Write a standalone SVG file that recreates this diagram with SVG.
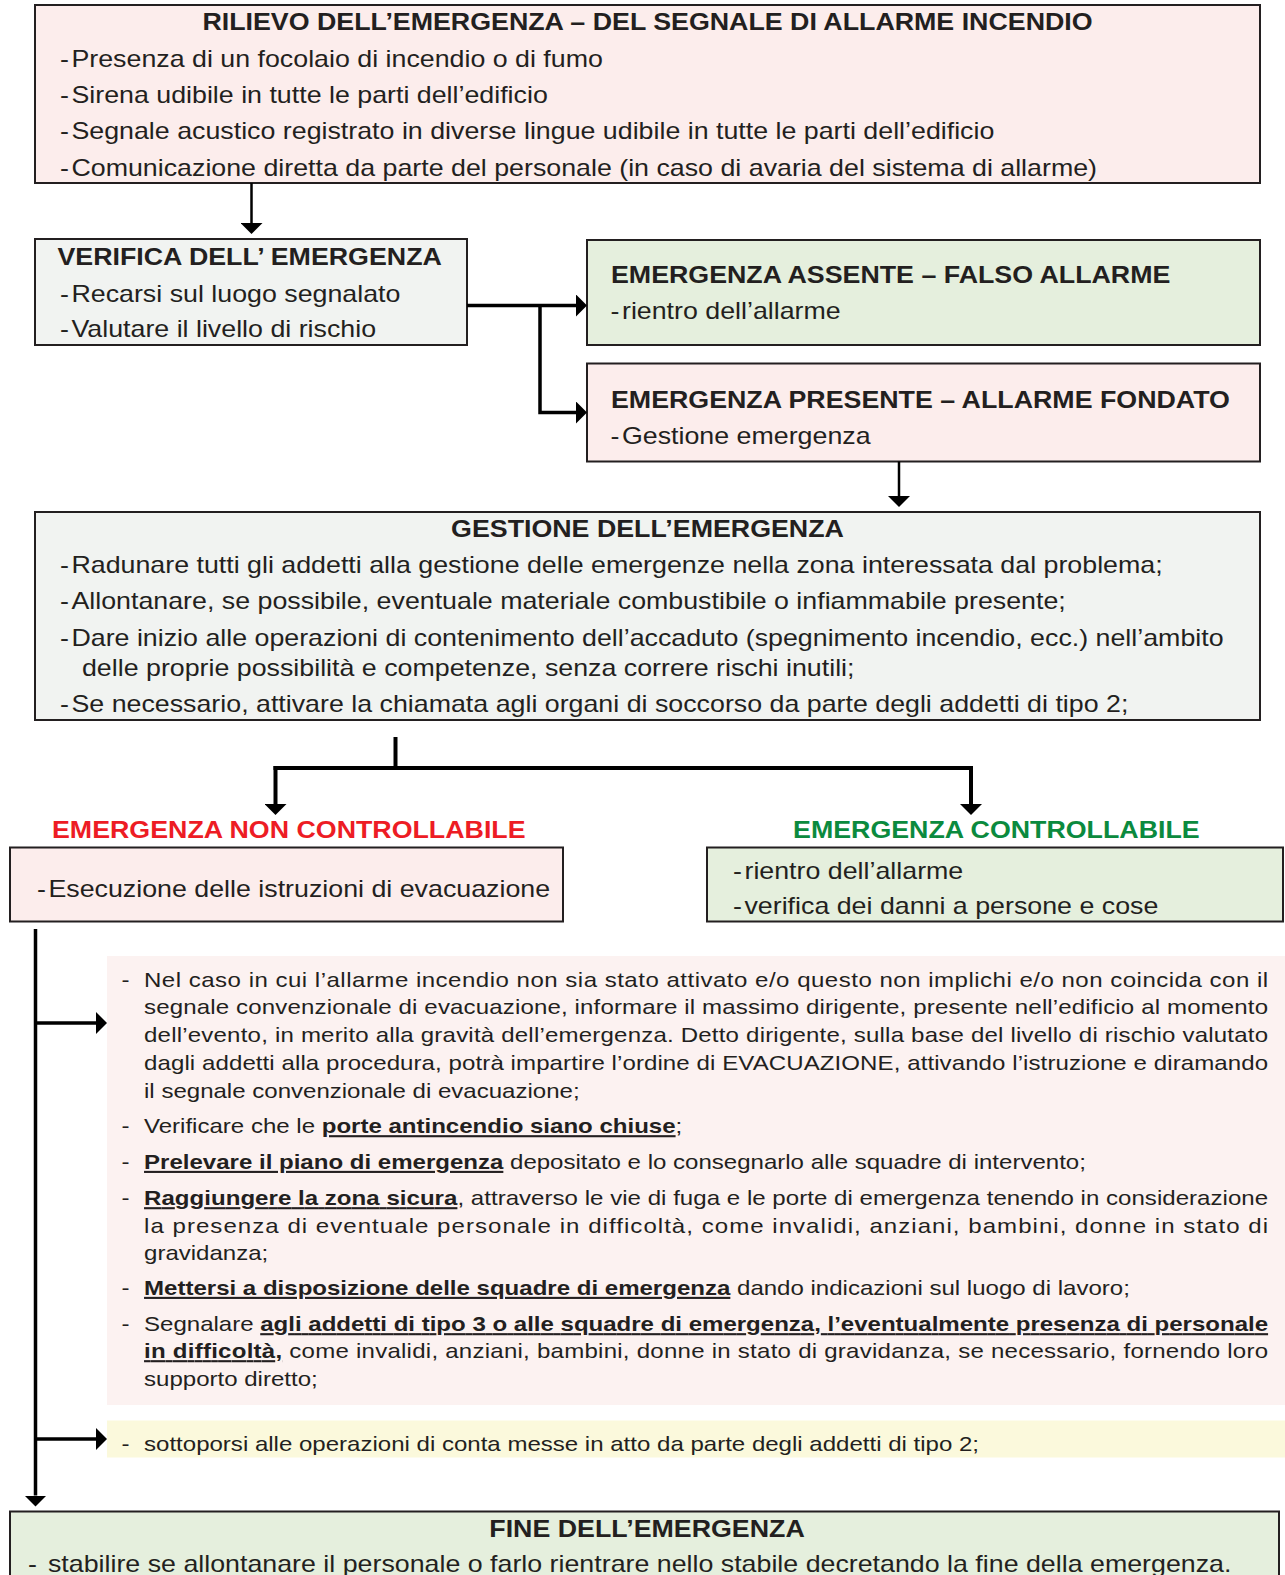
<svg xmlns="http://www.w3.org/2000/svg" width="1285" height="1575" viewBox="0 0 1285 1575">
<style>
.bx{stroke:#231f20;stroke-width:2}
.pk{fill:#fcedec}
.gr{fill:#e5efdd}
.gy{fill:#f1f3f1}
.t{font-family:"Liberation Sans",Arial,sans-serif;font-size:23.4px;fill:#231f20}
.b{font-weight:bold}
.l{font-family:"Liberation Sans",Arial,sans-serif;font-size:21px;fill:#231f20}
.u{font-weight:bold;text-decoration:underline}
.c{stroke:#000;fill:none}
</style>
<defs>
<marker id="ah" markerUnits="userSpaceOnUse" markerWidth="11" markerHeight="22" refX="0" refY="11" orient="auto" viewBox="0 0 11 22"><path d="M0,0 L11,11 L0,22 Z" fill="#000"/></marker>
</defs>
<rect width="1285" height="1575" fill="#fff"/>

<g id="rilievo">
<rect class="bx pk" x="35" y="5" width="1225" height="178"/>
<g transform="scale(1.145 1)">
<text class="t b" x="565.5" y="30" text-anchor="middle">RILIEVO DELL’EMERGENZA – DEL SEGNALE DI ALLARME INCENDIO</text>
<text class="t" x="52.4" y="66.7">-</text><text class="t" x="62.4" y="66.7">Presenza di un focolaio di incendio o di fumo</text>
<text class="t" x="52.4" y="102.7">-</text><text class="t" x="62.4" y="102.7">Sirena udibile in tutte le parti dell’edificio</text>
<text class="t" x="52.4" y="139">-</text><text class="t" x="62.4" y="139">Segnale acustico registrato in diverse lingue udibile in tutte le parti dell’edificio</text>
<text class="t" x="52.4" y="175.7">-</text><text class="t" x="62.4" y="175.7">Comunicazione diretta da parte del personale (in caso di avaria del sistema di allarme)</text>
</g>
</g>

<g id="verifica">
<rect class="bx gy" x="35" y="239" width="432" height="106"/>
<g transform="scale(1.145 1)">
<text class="t b" x="50.2" y="265">VERIFICA DELL’ EMERGENZA</text>
<text class="t" x="52.4" y="301.7">-</text><text class="t" x="62.4" y="301.7">Recarsi sul luogo segnalato</text>
<text class="t" x="52.4" y="337.5">-</text><text class="t" x="62.4" y="337.5">Valutare il livello di rischio</text>
</g>
</g>

<g id="assente">
<rect class="bx gr" x="587" y="240" width="673" height="105"/>
<g transform="scale(1.145 1)">
<text class="t b" x="533.6" y="282.7">EMERGENZA ASSENTE – FALSO ALLARME</text>
<text class="t" x="533.2" y="319.5">-</text><text class="t" x="543.2" y="319.5">rientro dell’allarme</text>
</g>
</g>

<g id="presente">
<rect class="bx pk" x="587" y="363.5" width="673" height="98"/>
<g transform="scale(1.145 1)">
<text class="t b" x="533.6" y="408">EMERGENZA PRESENTE – ALLARME FONDATO</text>
<text class="t" x="533.2" y="444.5">-</text><text class="t" x="543.2" y="444.5">Gestione emergenza</text>
</g>
</g>

<g id="gestione">
<rect class="bx gy" x="35" y="512" width="1225" height="208"/>
<g transform="scale(1.145 1)">
<text class="t b" x="565.5" y="537.3" text-anchor="middle">GESTIONE DELL’EMERGENZA</text>
<text class="t" x="52.4" y="573.3">-</text><text class="t" x="62.4" y="573.3">Radunare tutti gli addetti alla gestione delle emergenze nella zona interessata dal problema;</text>
<text class="t" x="52.4" y="609.3">-</text><text class="t" x="62.4" y="609.3">Allontanare, se possibile, eventuale materiale combustibile o infiammabile presente;</text>
<text class="t" x="52.4" y="646">-</text><text class="t" x="62.4" y="646">Dare inizio alle operazioni di contenimento dell’accaduto (spegnimento incendio, ecc.) nell’ambito</text>
<text class="t" x="71.6" y="676">delle proprie possibilità e competenze, senza correre rischi inutili;</text>
<text class="t" x="52.4" y="712.5">-</text><text class="t" x="62.4" y="712.5">Se necessario, attivare la chiamata agli organi di soccorso da parte degli addetti di tipo 2;</text>
</g>
</g>

<g id="non-controllabile">
<g transform="scale(1.145 1)">
<text class="t b" x="45.4" y="838.3" style="fill:#ed1c24">EMERGENZA NON CONTROLLABILE</text>
</g>
<rect class="bx pk" x="10" y="847.5" width="553" height="74"/>
<g transform="scale(1.145 1)">
<text class="t" x="32.3" y="896.7">-</text><text class="t" x="42.3" y="896.7">Esecuzione delle istruzioni di evacuazione</text>
</g>
</g>

<g id="controllabile">
<g transform="scale(1.145 1)">
<text class="t b" x="692.6" y="838.3" style="fill:#0b8a3e">EMERGENZA CONTROLLABILE</text>
</g>
<rect class="bx gr" x="707" y="847.5" width="576" height="74"/>
<g transform="scale(1.145 1)">
<text class="t" x="640.2" y="879.3">-</text><text class="t" x="650.2" y="879.3">rientro dell’allarme</text>
<text class="t" x="640.2" y="914">-</text><text class="t" x="650.2" y="914">verifica dei danni a persone e cose</text>
</g>
</g>

<g id="istruzioni">
<rect x="107" y="956" width="1178" height="449" fill="#fcf2f1"/>
<g transform="scale(1.145 1)">
<text class="l" x="106.1" y="986.7">-</text>
<text class="l" x="125.8" y="986.7" textLength="981.7" lengthAdjust="spacing">Nel caso in cui l’allarme incendio non sia stato attivato e/o questo non implichi e/o non coincida con il</text>
<text class="l" x="125.8" y="1014.5" textLength="981.7" lengthAdjust="spacing">segnale convenzionale di evacuazione, informare il massimo dirigente, presente nell’edificio al momento</text>
<text class="l" x="125.8" y="1042.2" textLength="981.7" lengthAdjust="spacing">dell’evento, in merito alla gravità dell’emergenza. Detto dirigente, sulla base del livello di rischio valutato</text>
<text class="l" x="125.8" y="1070" textLength="981.7" lengthAdjust="spacing">dagli addetti alla procedura, potrà impartire l’ordine di EVACUAZIONE, attivando l’istruzione e diramando</text>
<text class="l" x="125.8" y="1097.7">il segnale convenzionale di evacuazione;</text>

<text class="l" x="106.1" y="1133.3">-</text>
<text class="l" x="125.8" y="1133.3">Verificare che le <tspan class="u">porte antincendio siano chiuse</tspan>;</text>

<text class="l" x="106.1" y="1169">-</text>
<text class="l" x="125.8" y="1169"><tspan class="u">Prelevare il piano di emergenza</tspan> depositato e lo consegnarlo alle squadre di intervento;</text>

<text class="l" x="106.1" y="1205.3">-</text>
<text class="l" x="125.8" y="1205.3" textLength="981.7" lengthAdjust="spacing"><tspan class="u">Raggiungere la zona sicura</tspan>, attraverso le vie di fuga e le porte di emergenza tenendo in considerazione</text>
<text class="l" x="125.8" y="1232.8" textLength="981.7" lengthAdjust="spacing">la presenza di eventuale personale in difficoltà, come invalidi, anziani, bambini, donne in stato di</text>
<text class="l" x="125.8" y="1260">gravidanza;</text>

<text class="l" x="106.1" y="1295">-</text>
<text class="l" x="125.8" y="1295"><tspan class="u">Mettersi a disposizione delle squadre di emergenza</tspan> dando indicazioni sul luogo di lavoro;</text>

<text class="l" x="106.1" y="1331.3">-</text>
<text class="l" x="125.8" y="1331.3" textLength="981.7" lengthAdjust="spacing">Segnalare <tspan class="u">agli addetti di tipo 3 o alle squadre di emergenza, l’eventualmente presenza di personale</tspan></text>
<text class="l" x="125.8" y="1358.3" textLength="981.7" lengthAdjust="spacing"><tspan class="u">in difficoltà,</tspan> come invalidi, anziani, bambini, donne in stato di gravidanza, se necessario, fornendo loro</text>
<text class="l" x="125.8" y="1386.4">supporto diretto;</text>
</g>
</g>

<g id="conta">
<rect x="107" y="1420.5" width="1178" height="37" fill="#fbf9dc"/>
<g transform="scale(1.145 1)">
<text class="l" x="106.1" y="1451">-</text>
<text class="l" x="125.8" y="1451">sottoporsi alle operazioni di conta messe in atto da parte degli addetti di tipo 2;</text>
</g>
</g>

<g id="fine">
<rect class="bx gr" x="10" y="1511.5" width="1269" height="80"/>
<g transform="scale(1.145 1)">
<text class="t b" x="565.1" y="1536.7" text-anchor="middle">FINE DELL’EMERGENZA</text>
<text class="t" x="24.5" y="1571.7">-</text>
<text class="t" x="41.9" y="1571.7">stabilire se allontanare il personale o farlo rientrare nello stabile decretando la fine della emergenza.</text>
</g>
</g>

<g id="connectors">
<path class="c" stroke-width="2.5" d="M251.5,183 V223" marker-end="url(#ah)"/>
<path class="c" stroke-width="3.5" d="M467,305.5 H576" marker-end="url(#ah)"/>
<path class="c" stroke-width="3.5" d="M540,305.5 V412.5 H576" marker-end="url(#ah)"/>
<path class="c" stroke-width="2.5" d="M899,461.5 V496" marker-end="url(#ah)"/>
<path class="c" stroke-width="4" d="M395.5,737 V768"/>
<path class="c" stroke-width="4" d="M273.5,768 H973"/>
<path class="c" stroke-width="4" d="M275.5,766 V804" marker-end="url(#ah)"/>
<path class="c" stroke-width="4" d="M971,766 V804" marker-end="url(#ah)"/>
<path class="c" stroke-width="3.5" d="M35.5,929 V1495.5" marker-end="url(#ah)"/>
<path class="c" stroke-width="3.5" d="M35.5,1023 H96" marker-end="url(#ah)"/>
<path class="c" stroke-width="3.5" d="M35.5,1439 H96" marker-end="url(#ah)"/>
</g>
</svg>
